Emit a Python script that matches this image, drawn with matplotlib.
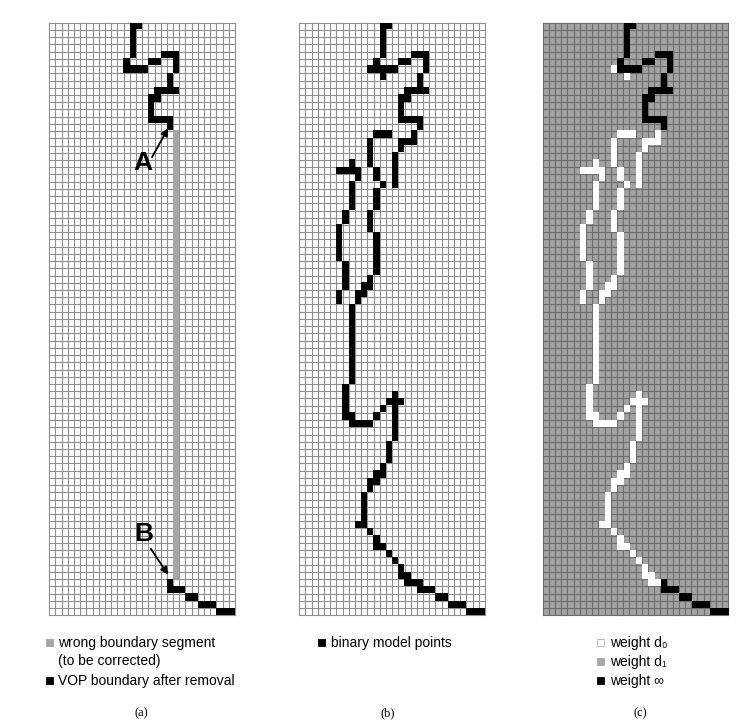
import matplotlib
matplotlib.use("Agg")
import matplotlib.pyplot as plt
import numpy as np
from matplotlib.colors import ListedColormap
from matplotlib.patches import Rectangle

W, H = 752, 722
N_COLS, N_ROWS = 30, 82

# ---- data: grid cells (col, row), row 0 at top ----
# horizontal runs: (row, col_start, col_end)
fixed_top_h = [(0, 13, 14), (4, 18, 20), (5, 16, 17), (6, 12, 15), (9, 17, 20),
               (10, 16, 17), (13, 16, 19)]
# vertical runs: (col, row_start, row_end)
fixed_top_v = [(13, 1, 4), (12, 5, 5), (20, 5, 6), (19, 7, 8), (16, 11, 12), (19, 14, 14)]
fixed_bottom_h = [(77, 19, 19), (78, 19, 21), (79, 22, 23), (80, 24, 26), (81, 27, 29)]

model_h = [(6, 11, 11), (7, 13, 13), (15, 12, 14), (16, 16, 18), (17, 16, 16),
           (20, 6, 9), (21, 9, 9), (36, 10, 11), (37, 9, 10), (38, 9, 9),
           (55, 8, 11), (54, 8, 8), (54, 12, 12), (53, 13, 13), (52, 14, 16),
           (51, 15, 15), (61, 13, 13), (62, 12, 13), (63, 11, 12), (64, 11, 11),
           (69, 9, 10), (70, 11, 11), (71, 12, 12), (72, 12, 13), (73, 14, 14),
           (74, 15, 15), (75, 16, 16), (76, 16, 17), (77, 17, 18)]
model_v = [(11, 16, 19), (18, 15, 15), (15, 18, 22), (8, 19, 19), (8, 22, 25),
           (12, 20, 21), (13, 22, 22), (12, 23, 25), (11, 26, 28), (12, 29, 34),
           (11, 35, 35), (7, 26, 27), (6, 28, 32), (7, 33, 36), (6, 37, 38),
           (8, 39, 49), (7, 50, 54), (15, 53, 57), (14, 58, 60), (10, 65, 68)]

wrong_col = 20
wrong_rows = (15, 76)

legend_a = ["wrong boundary segment\n(to be corrected)", "VOP boundary after removal"]
legend_b = ["binary model points"]
legend_c = ["weight d\u2080", "weight d\u2081", "weight \u221e"]
captions = ["(a)", "(b)", "(c)"]


def expand(h_runs, v_runs):
    cells = set()
    for r, c0, c1 in h_runs:
        for c in range(c0, c1 + 1):
            cells.add((c, r))
    for c, r0, r1 in v_runs:
        for r in range(r0, r1 + 1):
            cells.add((c, r))
    return cells


fixed = expand(fixed_top_h + fixed_bottom_h, fixed_top_v)
model = expand(model_h, model_v) | fixed
wrong = {(wrong_col, r) for r in range(wrong_rows[0], wrong_rows[1] + 1)}

fig = plt.figure(figsize=(W / 100, H / 100), dpi=100)
fig.patch.set_facecolor("white")

TEXT_FONT = ["Liberation Sans", "DejaVu Sans"]


def panel(x0, bg, line_c, cells_codes, colors):
    y0, w, h = 22.7, 185.7, 592.5
    ax = fig.add_axes([x0 / W, 1 - (y0 + h) / H, w / W, h / H])
    ax.set_xlim(0, N_COLS)
    ax.set_ylim(N_ROWS, 0)
    ax.set_facecolor(bg)
    for i in range(N_COLS + 1):
        ax.axvline(i, color=line_c, lw=0.8, zorder=1, clip_on=False)
    for j in range(N_ROWS + 1):
        ax.axhline(j, color=line_c, lw=0.8, zorder=1, clip_on=False)
    M = np.zeros((N_ROWS, N_COLS))
    for (c, r), code in cells_codes.items():
        M[r, c] = code
    Mm = np.ma.masked_equal(M, 0)
    cmap = ListedColormap(colors)
    cmap.set_bad((0, 0, 0, 0))
    ax.imshow(Mm, cmap=cmap, vmin=0.5, vmax=len(colors) + 0.5,
              extent=(0, N_COLS, N_ROWS, 0), interpolation="nearest",
              aspect="auto", zorder=3)
    for s in ax.spines.values():
        s.set_visible(False)
    ax.set_xticks([])
    ax.set_yticks([])
    return ax


# panel (a)
codes_a = {c: 1 for c in wrong}
codes_a.update({c: 2 for c in fixed})
ax_a = panel(49.3, "white", "#8f8f8f", codes_a, ["#a6a6a6", "black"])
ax_a.annotate("", xy=(19.2, 14.6), xytext=(16.6, 18.6),
              arrowprops=dict(arrowstyle="-|>", color="black", lw=1.3,
                              mutation_scale=11, shrinkA=0, shrinkB=0),
              annotation_clip=False, zorder=5)
ax_a.text(15.1, 19.4, "A", ha="center", va="center", fontsize=19,
          fontweight="bold", family=TEXT_FONT, zorder=5)
ax_a.annotate("", xy=(19.2, 76.4), xytext=(16.4, 72.8),
              arrowprops=dict(arrowstyle="-|>", color="black", lw=1.3,
                              mutation_scale=11, shrinkA=0, shrinkB=0),
              annotation_clip=False, zorder=5)
ax_a.text(15.2, 70.7, "B", ha="center", va="center", fontsize=19,
          fontweight="bold", family=TEXT_FONT, zorder=5)

# panel (b)
codes_b = {c: 1 for c in model}
panel(299.3, "white", "#8f8f8f", codes_b, ["black"])

# panel (c)
codes_c = {c: 1 for c in model - fixed}
codes_c.update({c: 2 for c in fixed})
panel(542.7, "#a3a3a3", "#6c6c6c", codes_c, ["white", "black"])


def fig_square(x, y, face, edge):
    fig.add_artist(Rectangle((x / W, 1 - (y + 7) / H), 7 / W, 7 / H,
                             transform=fig.transFigure, facecolor=face,
                             edgecolor=edge, lw=0.6))


def fig_text(x, y, s, **kw):
    fig.text(x / W, 1 - y / H, s, va="center", ha="left", fontsize=10,
             family=TEXT_FONT, **kw)


# legends
fig_square(46, 639, "#a6a6a6", "#a6a6a6")
fig_text(58, 643, legend_a[0].split("\n")[0])
fig_text(58, 661, legend_a[0].split("\n")[1])
fig_square(46, 677, "black", "black")
fig_text(58, 681, legend_a[1])

fig_square(318, 639, "black", "black")
fig_text(331, 643, legend_b[0])

fig_square(597, 639, "white", "#b0b0b0")
fig_text(610, 643, legend_c[0])
fig_square(597, 658, "#a6a6a6", "#a6a6a6")
fig_text(610, 662, legend_c[1])
fig_square(597, 677, "black", "black")
fig_text(610, 681, legend_c[2])

for x, s in zip([141, 388, 640], captions):
    fig.text(x / W, 1 - 713 / H, s, ha="center", va="center", fontsize=9,
             family=["Liberation Serif", "DejaVu Serif"])

fig.savefig("out.png", dpi=100, facecolor="white")
